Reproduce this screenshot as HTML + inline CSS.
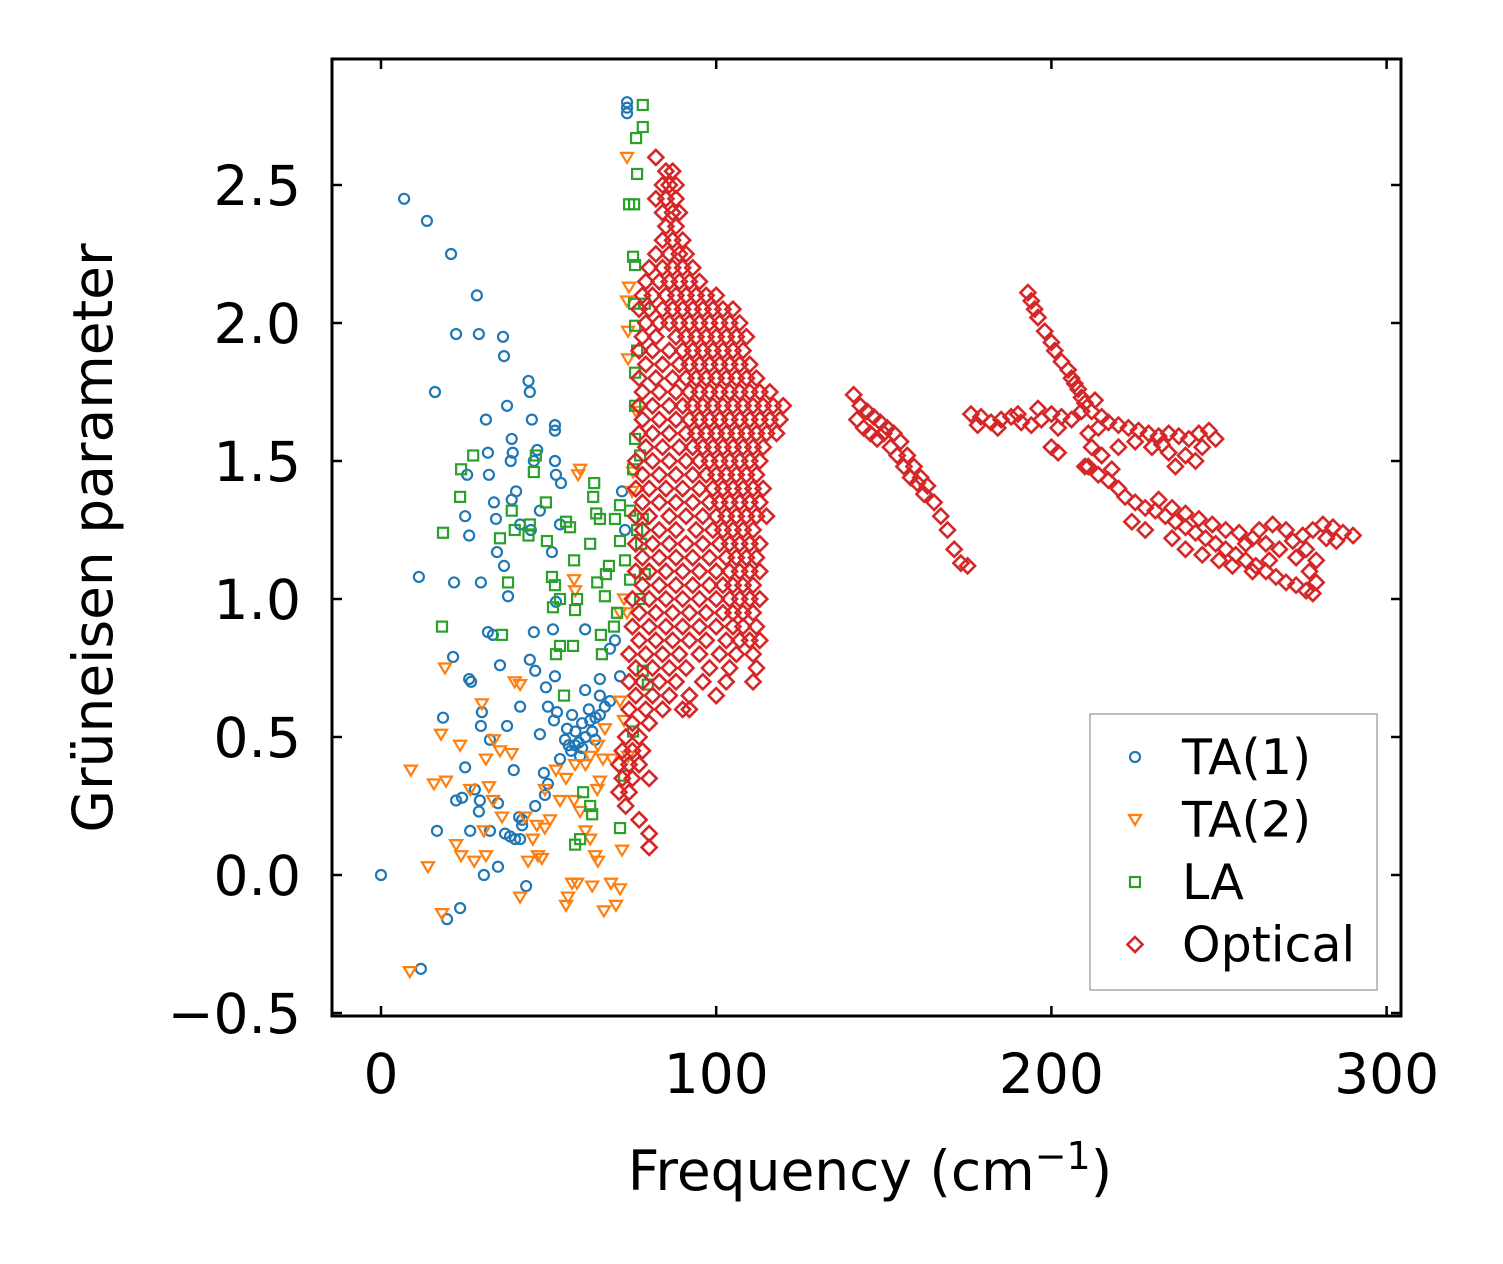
<!DOCTYPE html>
<html><head><meta charset="utf-8"><style>
html,body{margin:0;padding:0;background:#fff;}
svg{display:block;font-family:"DejaVu Sans","Liberation Sans",sans-serif;}
</style></head><body>
<svg id="chart" width="1503" height="1264" viewBox="0 0 1503 1264" xmlns="http://www.w3.org/2000/svg">
<g id="marks"></g>
<g id="axes"></g>
</svg>
<script>
const xTicks=[0,100,200,300];
const yTicks=[-0.5,0.0,0.5,1.0,1.5,2.0,2.5];
const yTickLabels=["\u22120.5","0.0","0.5","1.0","1.5","2.0","2.5"];
const ta1=[[6.9,2.45],[13.7,2.37],[20.9,2.25],[28.6,2.10],[22.4,1.96],[29.2,1.96],[36.4,1.95],[36.7,1.88],[16.1,1.75],[44,1.79],[44.4,1.75],[37.6,1.70],[31.3,1.65],[45,1.65],[51.9,1.63],[51.9,1.61],[39,1.58],[31.9,1.53],[39.3,1.53],[46.6,1.54],[45.6,1.50],[51.9,1.50],[38.7,1.50],[32.2,1.45],[25.7,1.45],[52.2,1.45],[53.7,1.42],[40.3,1.39],[39,1.36],[33.7,1.35],[25.1,1.30],[34.3,1.29],[47.4,1.32],[53.4,1.27],[41.5,1.27],[44.7,1.25],[26.3,1.23],[34.6,1.17],[51,1.17],[36.7,1.12],[11.3,1.08],[21.8,1.06],[29.8,1.06],[37.9,1.01],[52.2,0.99],[51.3,0.89],[60.9,0.89],[31.9,0.88],[33.4,0.87],[45.6,0.88],[35.5,0.76],[44.4,0.78],[21.5,0.79],[46,0.74],[26.3,0.71],[26.9,0.70],[49.2,0.68],[51.9,0.72],[65.3,0.71],[60.9,0.67],[18.5,0.57],[30.1,0.59],[41.5,0.61],[49.8,0.61],[52.5,0.59],[29.8,0.54],[37.6,0.54],[47.4,0.51],[32.5,0.49],[51.6,0.56],[55.5,0.53],[57.9,0.47],[54.9,0.49],[59.4,0.43],[53.4,0.42],[62.4,0.56],[65.3,0.58],[66.8,0.61],[68.3,0.63],[63.9,0.49],[56.7,0.45],[25.1,0.39],[39.6,0.38],[48.6,0.37],[49.8,0.33],[28,0.31],[24.2,0.28],[22.4,0.27],[29.5,0.27],[34.9,0.26],[46,0.25],[48.9,0.29],[29.2,0.23],[41.2,0.21],[42.1,0.2],[42.1,0.18],[16.7,0.16],[26.6,0.16],[32.5,0.16],[37,0.15],[38.5,0.14],[40,0.13],[41.5,0.13],[34.9,0.03],[30.7,0.0],[0,0],[43.3,-0.04],[23.6,-0.12],[19.7,-0.16],[11.9,-0.34],[73.4,2.80],[73.4,2.78],[73.4,2.76],[71.3,0.72],[69.8,0.85],[68.3,0.82],[65.3,0.65],[72.8,1.25],[71.9,1.39],[58,0.52],[60,0.55],[57,0.58],[61,0.5],[62,0.6],[59,0.48],[63,0.52],[56,0.47],[64,0.57],[60,0.46]];
const ta2=[[8.6,-0.35],[8.9,0.38],[14,0.03],[18.2,-0.14],[19.4,0.34],[15.8,0.33],[19.1,0.75],[17.9,0.51],[23.6,0.47],[22.4,0.11],[23.9,0.07],[26.6,0.31],[27.8,0.05],[30.1,0.62],[31.3,0.42],[32.2,0.32],[33.4,0.27],[31.3,0.07],[30.7,0.16],[33.7,0.49],[35.5,0.45],[36.1,0.21],[39,0.44],[39.9,0.70],[41.5,0.69],[41.5,-0.08],[43.9,0.05],[45.3,0.13],[46.8,0.07],[48.9,0.17],[48.9,0.31],[48,0.06],[43,0.21],[46.5,0.18],[50.4,0.2],[52.2,0.38],[55.2,-0.11],[55.8,-0.08],[57,-0.03],[58.5,-0.03],[58.8,1.45],[59.4,1.47],[57.6,1.07],[57.9,1.03],[57.6,0.27],[59.4,0.23],[61,0.16],[62.4,0.13],[63,-0.04],[63.9,0.07],[64.5,0.31],[66.5,-0.13],[68.6,-0.03],[70.1,-0.11],[71.3,-0.05],[64.7,0.05],[65.3,0.34],[66.2,0.42],[64.7,0.47],[62.4,0.43],[61,0.40],[57.9,0.40],[55.2,0.35],[53.4,0.27],[71.9,0.09],[73.4,2.60],[74,2.13],[73.4,2.08],[73.7,1.97],[73.7,1.87],[76.1,1.68],[75.2,1.46],[74.9,1.39],[73.4,0.95],[72.5,1.0],[71.3,0.95],[72.5,0.56],[73.7,0.43],[71.3,0.63],[68.9,0.42],[66.8,0.53]];
const la=[[18.2,0.90],[18.5,1.24],[23.6,1.37],[23.9,1.47],[27.5,1.52],[35.5,1.22],[36.1,0.87],[37.9,1.06],[39,1.32],[39.9,1.25],[44,1.23],[44.4,1.27],[45.6,1.46],[46.2,1.52],[49.2,1.35],[49.5,1.21],[51,1.08],[51.9,1.05],[51.3,0.97],[53.4,1.0],[52.2,0.80],[53.4,0.83],[55.2,1.28],[56.4,1.26],[57.6,1.14],[57.9,0.96],[58.5,1.0],[57.3,0.83],[54.6,0.65],[57.9,0.11],[59.4,0.13],[60.3,0.30],[62.4,0.25],[63,0.22],[62.4,1.20],[63.3,1.37],[63.6,1.42],[64.2,1.31],[65.3,1.29],[64.5,1.06],[67.1,1.09],[66.8,1.01],[65.6,0.87],[65.9,0.80],[68,1.12],[70.4,0.95],[69.5,0.90],[71.3,0.17],[72.5,0.36],[69.8,1.29],[71.3,1.34],[71.3,1.21],[72.8,1.14],[74.3,1.32],[75.2,1.47],[75.8,1.58],[75.8,1.70],[75.8,1.82],[76.4,1.90],[75.8,1.99],[75.5,2.07],[75.8,2.21],[75.2,2.24],[74,2.43],[75.5,2.43],[76.4,2.54],[76.1,2.67],[78.1,2.71],[78.1,2.79],[78.7,2.07],[77.3,1.52],[76.4,1.25],[77.6,1.2],[78.1,1.29],[78.7,1.09],[77.3,1.0],[79.6,0.69],[75.2,0.52],[78.1,0.74],[74.3,1.07]];
const opticalRows=[[2.60,[82]],[2.55,[85,87]],[2.50,[84,86,88]],[2.45,[82,85,88]],[2.40,[84,87,89]],[2.35,[85,88]],[2.30,[84,87,90]],[2.25,[82,86,89,91]],[2.20,[80,84,87,90,93]],[2.15,[79,83,86,89,92,95]],[2.10,[78,81,85,88,91,94,97,100]],[2.05,[77,80,84,87,90,93,96,99,102,105]],[2.00,[79,83,86,89,92,95,98,101,104,107]],[1.95,[78,82,88,91,94,97,100,103,106,109]],[1.90,[77,81,86,90,93,96,99,102,105,108]],[1.85,[79,84,89,92,95,98,101,104,107,110]],[1.80,[77,82,87,91,94,97,100,103,106,109,112]],[1.75,[78,83,88,92,95,98,101,104,107,110,113,116]],[1.70,[77,81,86,90,93,96,99,102,105,108,111,114,117,120]],[1.65,[78,83,88,92,95,98,101,104,107,110,113,116,119]],[1.60,[77,81,86,91,94,97,100,103,106,109,112,115,118]],[1.55,[79,84,89,93,96,99,102,105,108,111,114]],[1.50,[76,81,86,91,95,98,101,104,107,110,113]],[1.45,[78,83,88,93,97,100,103,106,109,112]],[1.40,[76,80,85,90,95,99,102,105,108,111,114]],[1.35,[78,83,88,93,98,101,104,107,110,113]],[1.30,[76,80,86,91,96,100,103,106,109,112,115]],[1.25,[78,83,88,94,99,102,105,108,111]],[1.20,[76,81,86,91,96,101,104,107,110,113]],[1.15,[78,83,88,93,98,103,106,109,112]],[1.10,[76,80,85,90,95,100,104,107,110,113]],[1.05,[78,83,88,93,98,102,105,108,111]],[1.00,[75,80,85,90,95,100,104,107,110,113]],[0.95,[77,82,87,92,97,102,105,108,111]],[0.90,[75,80,85,90,95,100,105,108,112]],[0.85,[77,82,87,92,97,103,107,110,113]],[0.80,[74,79,84,89,95,101,106,111]],[0.75,[76,81,86,91,98,104,112]],[0.70,[74,78,83,88,96,103,111]],[0.65,[76,81,86,92,100]],[0.60,[74,79,84,90,92]],[0.55,[75,80]],[0.50,[73,77]],[0.45,[72,75,78]],[0.40,[71,74,77]],[0.35,[72,75,80]],[0.30,[71,74]],[0.25,[73]],[0.20,[77]],[0.15,[80]],[0.10,[80]]];
const opticalHigh=[[141,1.74],[143,1.70],[145,1.68],[147,1.66],[149,1.64],[151,1.62],[153,1.60],[155,1.57],[157,1.52],[159,1.48],[161,1.44],[163,1.41],[165,1.35],[167,1.30],[169,1.25],[171,1.18],[173,1.13],[175,1.12],[142,1.65],[144,1.62],[146,1.60],[148,1.58],[150,1.60],[152,1.55],[154,1.52],[156,1.48],[158,1.44],[160,1.42],[162,1.38],[176,1.67],[179,1.66],[182,1.64],[185,1.65],[188,1.66],[191,1.64],[194,1.63],[197,1.65],[200,1.67],[203,1.66],[206,1.65],[209,1.68],[178,1.63],[184,1.62],[190,1.67],[196,1.69],[202,1.62],[200,1.55],[202,1.53],[193,2.11],[194,2.08],[195,2.05],[196,2.02],[198,1.97],[200,1.93],[201,1.90],[203,1.86],[205,1.83],[206,1.80],[207,1.78],[208,1.76],[209,1.73],[210,1.71],[212,1.68],[213,1.72],[215,1.66],[211,1.60],[214,1.62],[217,1.64],[220,1.63],[223,1.62],[226,1.61],[229,1.60],[232,1.59],[235,1.60],[238,1.59],[241,1.58],[244,1.60],[247,1.61],[249,1.58],[212,1.55],[215,1.52],[220,1.55],[225,1.57],[230,1.55],[235,1.53],[240,1.52],[245,1.55],[237,1.48],[243,1.50],[233,1.56],[210,1.48],[211,1.48],[214,1.45],[217,1.43],[220,1.40],[218,1.47],[222,1.37],[225,1.35],[228,1.33],[231,1.32],[234,1.30],[237,1.28],[240,1.26],[243,1.24],[246,1.22],[249,1.20],[252,1.18],[255,1.16],[258,1.14],[261,1.12],[264,1.10],[267,1.08],[270,1.06],[273,1.05],[276,1.03],[278,1.02],[232,1.36],[236,1.33],[240,1.31],[244,1.29],[248,1.27],[252,1.25],[256,1.24],[260,1.22],[264,1.20],[268,1.18],[272,1.21],[275,1.23],[278,1.25],[281,1.27],[284,1.26],[287,1.24],[290,1.23],[276,1.18],[279,1.14],[277,1.10],[279,1.06],[270,1.25],[266,1.27],[262,1.25],[258,1.20],[254,1.12],[250,1.14],[245,1.16],[240,1.18],[236,1.22],[228,1.25],[224,1.28],[260,1.10],[265,1.14],[285,1.21],[282,1.22],[273,1.15]];

const NS="http://www.w3.org/2000/svg";
const L=332,R=1401,T=59,B=1016;
const xs=v=>381+v*3.352;
const ys=v=>875-v*276;
const marks=document.getElementById('marks');
const axes=document.getElementById('axes');
function mk(tag,attrs,parent){const e=document.createElementNS(NS,tag);for(const k in attrs)e.setAttribute(k,attrs[k]);parent.appendChild(e);return e;}
function marker(type,x,y,color,parent){
  let e;
  if(type==='circle'){e=mk('circle',{cx:x,cy:y,r:5},parent);}
  else if(type==='tri'){e=mk('polygon',{points:`${x-6},${y-4.5} ${x+6},${y-4.5} ${x},${y+5.5}`},parent);}
  else if(type==='square'){e=mk('rect',{x:x-5,y:y-5,width:10,height:10},parent);}
  else {e=mk('polygon',{points:`${x},${y-7.5} ${x+7.5},${y} ${x},${y+7.5} ${x-7.5},${y}`},parent);}
  e.setAttribute('fill','none');e.setAttribute('stroke',color);e.setAttribute('stroke-width',type==='diamond'?'2.6':'2.2');
  return e;
}
function series(data,type,color,name){
  const g=mk('g',{},marks);
  
  
  data.forEach(d=>{const e=marker(type,xs(d[0]),ys(d[1]),color,g);
    
    });
}
series(ta1,'circle','#1f77b4','ta1');
series(ta2,'tri','#ff7f0e','ta2');
series(la,'square','#2ca02c','la');
const optical=[];
opticalRows.forEach(r=>r[1].forEach(f=>optical.push([f,r[0]])));
opticalHigh.forEach(p=>optical.push(p));
series(optical,'diamond','#d62728','optical');

const fr=mk('rect',{x:L,y:T,width:R-L,height:B-T,fill:'none',stroke:'#000','stroke-width':3},axes);


xTicks.forEach(v=>{const x=xs(v);
  mk('line',{x1:x,y1:B,x2:x,y2:B-10,stroke:'#000','stroke-width':2.5},axes);
  mk('line',{x1:x,y1:T,x2:x,y2:T+10,stroke:'#000','stroke-width':2.5},axes);
  const t=mk('text',{x:x,y:1093,'text-anchor':'middle','font-size':55},axes);t.textContent=v;
  
  
});
yTicks.forEach((v,i)=>{const y=ys(v);
  mk('line',{x1:L,y1:y,x2:L+10,y2:y,stroke:'#000','stroke-width':2.5},axes);
  mk('line',{x1:R,y1:y,x2:R-10,y2:y,stroke:'#000','stroke-width':2.5},axes);
  const t=mk('text',{x:301,y:y+20,'text-anchor':'end','font-size':55},axes);t.textContent=yTickLabels[i];
  
  
});
const xl=mk('text',{x:870,y:1190,'text-anchor':'middle','font-size':55},axes);
xl.innerHTML='Frequency (cm<tspan dy="-21" font-size="38">\u22121</tspan><tspan dy="21">)</tspan>';


const yl=mk('text',{x:0,y:0,'text-anchor':'middle','font-size':55,transform:'translate(112,538) rotate(-90)'},axes);
yl.textContent='Grüneisen parameter';


const lg=mk('g',{},axes);


mk('rect',{x:1090,y:714,width:287,height:276,fill:'#fff',stroke:'#aaa','stroke-width':1.5},lg);
const legItems=[['TA(1)','circle','#1f77b4'],['TA(2)','tri','#ff7f0e'],['LA','square','#2ca02c'],['Optical','diamond','#d62728']];
legItems.forEach((it,i)=>{const y=757+i*62.5;
  const m=marker(it[1],1135,y,it[2],lg);
  
  
  const t=mk('text',{x:1182,y:y+17,'font-size':49},lg);t.textContent=it[0];
  
  
});
</script>
</body></html>
